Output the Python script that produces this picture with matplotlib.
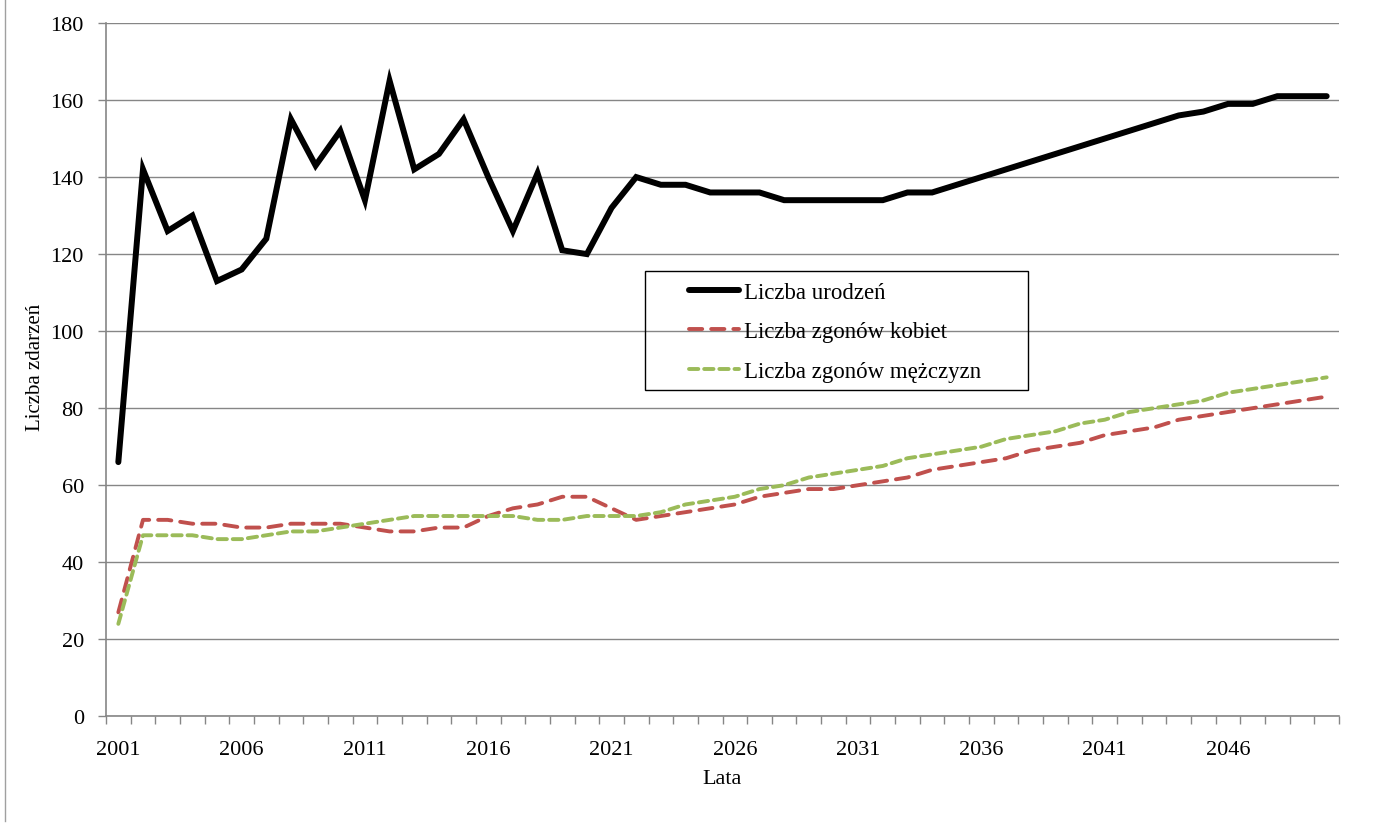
import matplotlib
matplotlib.use("Agg")
import matplotlib.pyplot as plt
from matplotlib.lines import Line2D
from matplotlib.patches import Rectangle

plt.rcParams['font.family'] = ['Liberation Serif', 'DejaVu Serif']

years = list(range(2001, 2051))
tick_labels = [str(y) for y in range(2001, 2050, 5)]

births = [66, 142, 126, 130, 113, 116, 124, 155, 143, 152,
          134, 165, 142, 146, 155, 140, 126, 141, 121, 120,
          132, 140, 138, 138, 136, 136, 136, 134, 134, 134,
          134, 134, 136, 136, 138, 140, 142, 144, 146, 148,
          150, 152, 154, 156, 157, 159, 159, 161, 161, 161]

deaths_women = [27, 51, 51, 50, 50, 49, 49, 50, 50, 50,
                49, 48, 48, 49, 49, 52, 54, 55, 57, 57,
                54, 51, 52, 53, 54, 55, 57, 58, 59, 59,
                60, 61, 62, 64, 65, 66, 67, 69, 70, 71,
                73, 74, 75, 77, 78, 79, 80, 81, 82, 83]

deaths_men = [24, 47, 47, 47, 46, 46, 47, 48, 48, 49,
              50, 51, 52, 52, 52, 52, 52, 51, 51, 52,
              52, 52, 53, 55, 56, 57, 59, 60, 62, 63,
              64, 65, 67, 68, 69, 70, 72, 73, 74, 76,
              77, 79, 80, 81, 82, 84, 85, 86, 87, 88]

series_labels = ["Liczba urodzeń", "Liczba zgonów kobiet", "Liczba zgonów mężczyzn"]

W, H = 1392, 828
fig = plt.figure(figsize=(W / 100, H / 100), dpi=100)
ax_l, ax_r, ax_t, ax_b = 106, 1339, 24, 717.3
ax = fig.add_axes([ax_l / W, 1 - ax_b / H, (ax_r - ax_l) / W, (ax_b - ax_t) / H])

x = list(range(len(years)))
grey = '#868686'

l1, = ax.plot(x, births, color='black', lw=4.3, solid_capstyle='round',
              solid_joinstyle='miter', zorder=5)
l2, = ax.plot(x, deaths_women, color='#C0504D', lw=2.8, dashes=(3.4, 2.3),
              dash_capstyle='round', zorder=4)
l3, = ax.plot(x, deaths_men, color='#9BBB59', lw=2.8, dashes=(2.4, 1.5),
              dash_capstyle='round', zorder=4)

ax.set_xlim(-0.5, len(years) - 0.5)
ax.set_ylim(0, 180)
ax.set_yticks(range(0, 181, 20))
ax.yaxis.grid(True, color=grey, lw=1.0)
ax.set_axisbelow(True)

label_pos = [years.index(int(t)) for t in tick_labels]
ax.set_xticks(label_pos)
ax.set_xticklabels(tick_labels)
ax.set_xticks([i - 0.5 for i in range(len(years) + 1)], minor=True)
ax.tick_params(axis='x', which='major', length=0, pad=17, labelsize=16)
ax.tick_params(axis='x', which='minor', length=6, color=grey, width=1, direction='out')
ax.tick_params(axis='y', length=6, color=grey, width=1, direction='out', pad=10, labelsize=16)

for s in ['top', 'right']:
    ax.spines[s].set_visible(False)
for s in ['left', 'bottom']:
    ax.spines[s].set_color(grey)
    ax.spines[s].set_linewidth(1.2)

fig.text(35 / W, 1 - 367 / H, "Liczba zdarzeń", rotation=90, ha='center', va='center', fontsize=15)
fig.text(722 / W, 1 - 780 / H, "Lata", ha='center', va='center', fontsize=16)

# legend
leg = fig.legend([l1, l2, l3], series_labels, loc='upper left',
                 bbox_to_anchor=(689 / W, 1 - 283 / H), bbox_transform=fig.transFigure,
                 frameon=False, fontsize=16.5, handlelength=2.2, handletextpad=0.22,
                 labelspacing=0.8, borderpad=0, borderaxespad=0)
fig.patches.append(Rectangle((645 / W, 1 - 391 / H), (1028 - 645) / W, (391 - 272) / H,
                             transform=fig.transFigure, fill=False, edgecolor='black',
                             lw=1.0, zorder=10))

# outer border line on the left
fig.add_artist(Line2D([5 / W, 5 / W], [1, 1 - 822 / H], transform=fig.transFigure,
                      color='#A0A0A0', lw=1.0))

fig.savefig("out.png", dpi=100)
